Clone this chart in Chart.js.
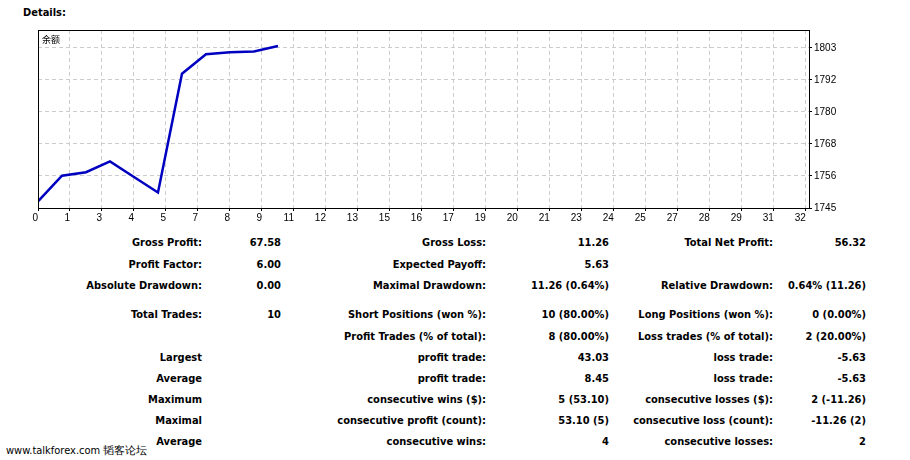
<!DOCTYPE html>
<html>
<head>
<meta charset="utf-8">
<script src="https://cdn.jsdelivr.net/npm/chart.js@4/dist/chart.umd.min.js"></script>
<style>
  html, body { margin: 0; padding: 0; background: #fff; }
  body { position: relative; width: 910px; height: 460px; overflow: hidden; font-family: "DejaVu Sans", sans-serif; }
  #wrap { position: absolute; left: 0; top: 0; width: 860px; height: 232px; }
  .title { position: absolute; left: 23px; top: 6px; font-weight: bold; font-size: 11px; font-stretch: condensed; color: #000; }
  .series { position: absolute; left: 42px; top: 33px; font-size: 9px; font-family: "Noto Sans CJK SC", sans-serif; color: #000; }
  .cell { position: absolute; white-space: nowrap; text-align: right; font-weight: bold; font-size: 11px; font-stretch: condensed; line-height: 14px; color: #000; }
  .mark { position: absolute; left: 6px; top: 443px; font-size: 11px; font-stretch: condensed; color: #000; }
</style>
</head>
<body>
<div class="title">Details:</div>
<div id="wrap"><canvas id="balanceChart"></canvas></div>
<div class="series">余额</div>
<div id="table"></div>
<div class="mark">www.talkforex.com 韬客论坛</div>
<script>
// trade number and balance after each trade
const trades = [0, 1, 2, 3, 4, 5, 6, 7, 8, 9, 10];
const balance = [1747.40, 1756.70, 1757.95, 1761.88, 1756.25, 1750.62, 1793.65, 1800.70, 1801.40, 1801.75, 1803.72];

// axis tick labels as printed by the tester
const xTickLabels = [0, 1, 3, 4, 5, 7, 8, 9, 11, 12, 13, 15, 16, 17, 19, 20, 21, 23, 24, 25, 27, 28, 29, 31, 32];
const yTickLabels = [1745, 1756, 1768, 1780, 1792, 1803];

// report rows: y, then label/value pairs for three columns
const rowY = [243, 265, 286, 315, 337, 358, 379, 400, 421, 442];
const col1 = [
  ["Gross Profit:", "67.58"], ["Profit Factor:", "6.00"], ["Absolute Drawdown:", "0.00"],
  ["Total Trades:", "10"], ["", ""], ["Largest", ""], ["Average", ""],
  ["Maximum", ""], ["Maximal", ""], ["Average", ""]
];
const col2 = [
  ["Gross Loss:", "11.26"], ["Expected Payoff:", "5.63"], ["Maximal Drawdown:", "11.26 (0.64%)"],
  ["Short Positions (won %):", "10 (80.00%)"], ["Profit Trades (% of total):", "8 (80.00%)"],
  ["profit trade:", "43.03"], ["profit trade:", "8.45"], ["consecutive wins ($):", "5 (53.10)"],
  ["consecutive profit (count):", "53.10 (5)"], ["consecutive wins:", "4"]
];
const col3 = [
  ["Total Net Profit:", "56.32"], ["", ""], ["Relative Drawdown:", "0.64% (11.26)"],
  ["Long Positions (won %):", "0 (0.00%)"], ["Loss trades (% of total):", "2 (20.00%)"],
  ["loss trade:", "-5.63"], ["loss trade:", "-5.63"], ["consecutive losses ($):", "2 (-11.26)"],
  ["consecutive loss (count):", "-11.26 (2)"], ["consecutive losses:", "2"]
];
const colRight = [[202, 281], [486, 609], [773, 866]];

const table = document.getElementById('table');
[col1, col2, col3].forEach((col, c) => {
  col.forEach((pair, r) => {
    pair.forEach((text, k) => {
      if (!text) return;
      const div = document.createElement('div');
      div.className = 'cell';
      div.innerText = text;
      div.style.right = (910 - colRight[c][k]) + 'px';
      div.style.top = (rowY[r] - 7) + 'px';
      table.appendChild(div);
    });
  });
});

const yStep = (yTickLabels[yTickLabels.length - 1] - yTickLabels[0]) / (yTickLabels.length - 1);
const xStep = 32 / (xTickLabels.length - 1);

const framePlugin = {
  id: 'frame',
  afterDraw(chart) {
    const a = chart.chartArea;
    const ctx = chart.ctx;
    ctx.save();
    ctx.strokeStyle = '#000';
    ctx.lineWidth = 1;
    ctx.strokeRect(Math.round(a.left) + 0.5, Math.round(a.top) + 0.5,
      Math.round(a.right - a.left), Math.round(a.bottom - a.top));
    ctx.restore();
  }
};

new Chart(document.getElementById('balanceChart'), {
  type: 'line',
  data: {
    datasets: [{
      label: '余额',
      data: trades.map((t, i) => ({ x: t, y: balance[i] })),
      borderColor: '#0000c0',
      borderWidth: 2.5,
      pointRadius: 0,
      tension: 0,
      fill: false
    }]
  },
  options: {
    responsive: true,
    maintainAspectRatio: false,
    animation: false,
    layout: { padding: { left: 38, top: 30, right: 0, bottom: 0 } },
    plugins: { legend: { display: false }, tooltip: { enabled: false } },
    scales: {
      x: {
        type: 'linear',
        min: 0,
        max: 32.13,
        afterBuildTicks: (scale) => {
          scale.ticks = xTickLabels.map((_, i) => ({ value: i * xStep }));
        },
        afterFit: (scale) => { scale.height = 24; },
        grid: { color: '#cccccc', lineWidth: 1, tickLength: 3, tickColor: '#000' },
        border: { display: true, color: '#000', width: 1, dash: [4, 3] },
        ticks: {
          autoSkip: false,
          maxRotation: 0,
          align: 'end',
          padding: 1,
          color: '#000',
          font: { family: 'Liberation Sans', size: 10 },
          callback: (v, i) => xTickLabels[i]
        }
      },
      y: {
        type: 'linear',
        position: 'right',
        min: 1745,
        max: 1809.5,
        afterBuildTicks: (scale) => {
          scale.ticks = yTickLabels.map((_, i) => ({ value: yTickLabels[0] + i * yStep }));
        },
        afterFit: (scale) => { scale.width = 51; },
        grid: { color: '#cccccc', lineWidth: 1, tickLength: 3, tickColor: '#000' },
        border: { display: true, color: '#000', width: 1, dash: [4, 3] },
        ticks: {
          autoSkip: false,
          padding: 2,
          color: '#000',
          font: { family: 'Liberation Sans', size: 10 },
          callback: (v, i) => yTickLabels[i]
        }
      }
    }
  },
  plugins: [framePlugin]
});
</script>
</body>
</html>
